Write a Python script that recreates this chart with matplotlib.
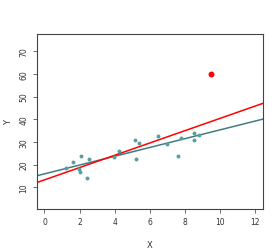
import numpy as np
import matplotlib
matplotlib.use("Agg")
import matplotlib.pyplot as plt

# main cloud of points
x_pts = [1.2, 1.62, 2.07, 1.98, 2.05, 2.45, 2.56, 3.97, 4.27, 5.18,
         5.39, 5.22, 6.47, 7.0, 7.6, 7.79, 8.53, 8.53, 8.77]
y_pts = [18.5, 20.9, 23.8, 18.1, 16.6, 14.1, 22.3, 23.2, 26.0, 30.7,
         29.7, 22.5, 32.8, 29.0, 23.9, 31.7, 34.1, 30.7, 33.2]

# the outlier
x_out = [9.5]
y_out = [60.1]

x_ticks = [0, 2, 4, 6, 8, 10, 12]
y_ticks = [10, 20, 30, 40, 50, 60, 70]

TEAL_PT = "#5a9ea0"
TEAL_LN = "#3f7d82"
TXT = "#333333"

fig = plt.figure(figsize=(2.76, 2.53), dpi=100)
ax = fig.add_axes([0.133, 0.170, 0.820, 0.692])

ax.scatter(x_pts, y_pts, s=8, color=TEAL_PT, zorder=3, linewidths=0)
ax.scatter(x_out, y_out, s=18, color="red", zorder=3, linewidths=0)

# fits: without outlier (teal) and with outlier (red)
xs = np.array([-1.0, 13.0])
b_clean = np.polyfit(x_pts, y_pts, 1)
b_all = np.polyfit(x_pts + x_out, y_pts + y_out, 1)
ax.plot(xs, np.polyval(b_clean, xs), color=TEAL_LN, lw=1.1, zorder=2)
ax.plot(xs, np.polyval(b_all, xs), color="red", lw=1.1, zorder=2)

ax.set_xlim(-0.44, 12.44)
ax.set_ylim(0.4, 77.6)
ax.set_xticks(x_ticks)
ax.set_yticks(y_ticks)
ax.tick_params(axis="both", direction="out", length=3, width=0.6,
               colors="#555555", labelcolor=TXT, labelsize=5.5, pad=3)
for lab in ax.get_yticklabels():
    lab.set_rotation(90)
    lab.set_va("center")
for sp in ax.spines.values():
    sp.set_color("#444444")
    sp.set_linewidth(0.8)

ax.set_xlabel("X", fontsize=6, color=TXT, labelpad=9.5)
ax.set_ylabel("Y", fontsize=6, color=TXT, labelpad=4.5)

fig.savefig("out.png", dpi=100)
